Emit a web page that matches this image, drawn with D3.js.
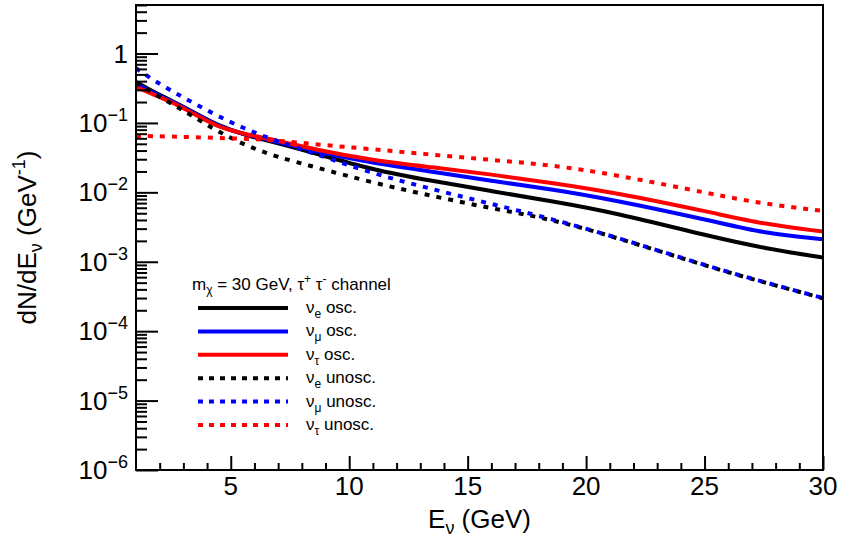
<!DOCTYPE html>
<html>
<head>
<meta charset="utf-8">
<script src="https://d3js.org/d3.v7.min.js"></script>
<style>
  html, body { margin: 0; padding: 0; background: #fff; }
  svg { display: block; font-family: "Liberation Sans", Arial, Helvetica, sans-serif; }
</style>
</head>
<body>
<svg id="chart" width="842" height="541"></svg>
<script>
// ---- data ----
const energies  = [1, 1.7, 2.57, 3.4, 4.4, 5.7, 7, 8.5, 11, 13.5, 16, 18.5, 21.2, 25.4, 27.5, 30];
const nueOsc    = [0.39, 0.284, 0.204, 0.145, 0.0936, 0.065, 0.0512, 0.037, 0.0210, 0.0146, 0.0104, 0.00752, 0.00513, 0.00224, 0.00157, 0.00115];
const numuOsc   = [0.37, 0.275, 0.200, 0.142, 0.091, 0.066, 0.0534, 0.0395, 0.0263, 0.0199, 0.0146, 0.0112, 0.00777, 0.00383, 0.00257, 0.00211];
const nutauOsc  = [0.33, 0.260, 0.196, 0.138, 0.088, 0.0674, 0.0557, 0.0415, 0.0288, 0.0230, 0.0181, 0.0138, 0.00997, 0.00505, 0.00347, 0.00272];
const nueUnosc  = [0.38, 0.270, 0.185, 0.125, 0.077, 0.046, 0.032, 0.0234, 0.0137, 0.00887, 0.00586, 0.00414, 0.00228, 0.00080, 0.000507, 0.000298];
const numuUnosc = [0.614, 0.420, 0.280, 0.196, 0.128, 0.0793, 0.0537, 0.0366, 0.0186, 0.0111, 0.00681, 0.00418, 0.00230, 0.00081, 0.00051, 0.000300];
const nutauUnosc= [0.065, 0.0645, 0.0635, 0.0625, 0.0608, 0.0589, 0.056, 0.0493, 0.0418, 0.0349, 0.0293, 0.0248, 0.0181, 0.00933, 0.0068, 0.0054];

const xTicks = [5, 10, 15, 20, 25, 30];
const yDecades = [0, -1, -2, -3, -4, -5, -6];

const series = [
  { name: "e",  label: " osc.",   values: nueOsc,    color: "#000000", dashed: false },
  { name: "μ",  label: " osc.",   values: numuOsc,   color: "#0000ff", dashed: false },
  { name: "τ",  label: " osc.",   values: nutauOsc,  color: "#ff0000", dashed: false },
  { name: "e",  label: " unosc.", values: nueUnosc,  color: "#000000", dashed: true },
  { name: "μ",  label: " unosc.", values: numuUnosc, color: "#0000ff", dashed: true },
  { name: "τ",  label: " unosc.", values: nutauUnosc,color: "#ff0000", dashed: true }
];

// ---- layout ----
const L = 136, R = 823, T = 5, B = 470;
const svg = d3.select("#chart");

const x = d3.scaleLinear().domain([1, 30]).range([L, R]);
const y = d3.scaleLog().domain([1e-6, 5]).range([B, T]);

svg.append("defs").append("clipPath").attr("id", "clip")
  .append("rect").attr("x", L).attr("y", T).attr("width", R - L).attr("height", B - T);

// curves
const line = d3.line()
  .x(d => x(d[0]))
  .y(d => y(d[1]))
  .curve(d3.curveBasis);

const plot = svg.append("g").attr("clip-path", "url(#clip)");
series.forEach(s => {
  const pts = energies.map((e, i) => [e, s.values[i]]);
  plot.append("path")
    .attr("d", line(pts))
    .attr("fill", "none")
    .attr("stroke", s.color)
    .attr("stroke-width", 4)
    .attr("stroke-dasharray", s.dashed ? "5,7" : null);
});

// ---- axes ----
const xMinor = d3.range(2, 30).filter(v => v % 5 !== 0);
const gx = svg.append("g").attr("transform", `translate(0,${B})`)
  .call(d3.axisBottom(x).tickValues(xTicks).tickSizeInner(-14).tickSizeOuter(0).tickFormat(""));
gx.select(".domain").remove();
gx.selectAll(".tick line").attr("stroke", "#000").attr("stroke-width", 2);
const gxm = svg.append("g").attr("transform", `translate(0,${B})`)
  .call(d3.axisBottom(x).tickValues(xMinor).tickSizeInner(-7).tickSizeOuter(0).tickFormat(""));
gxm.select(".domain").remove();
gxm.selectAll(".tick line").attr("stroke", "#000").attr("stroke-width", 2);

svg.append("g").selectAll("text").data(xTicks).join("text")
  .attr("x", d => x(d)).attr("y", 495)
  .attr("text-anchor", "middle")
  .attr("font-size", 26)
  .text(d => d);

// y axis
const yMajor = yDecades.map(p => Math.pow(10, p));
const yMinor = [];
yDecades.forEach(p => {
  if (p === 0) { [2, 3, 4, 5].forEach(m => yMinor.push(m)); }
  if (p > -6) { for (let m = 2; m <= 9; m++) yMinor.push(m * Math.pow(10, p - 1)); }
});
const gy = svg.append("g").attr("transform", `translate(${L},0)`)
  .call(d3.axisLeft(y).tickValues(yMajor).tickSizeInner(-22).tickSizeOuter(0).tickFormat(""));
gy.select(".domain").remove();
gy.selectAll(".tick line").attr("stroke", "#000").attr("stroke-width", 2);
const gym = svg.append("g").attr("transform", `translate(${L},0)`)
  .call(d3.axisLeft(y).tickValues(yMinor).tickSizeInner(-11).tickSizeOuter(0).tickFormat(""));
gym.select(".domain").remove();
gym.selectAll(".tick line").attr("stroke", "#000").attr("stroke-width", 2);

const yl = svg.append("g");
yDecades.forEach(p => {
  const t = yl.append("text")
    .attr("x", 128).attr("y", y(Math.pow(10, p)) + 9)
    .attr("text-anchor", "end")
    .attr("font-size", 26);
  if (p === 0) {
    t.text("1");
  } else {
    t.append("tspan").text("10");
    t.append("tspan").attr("font-size", 18).attr("dy", -11).text("\u2212" + (-p));
  }
});

// frame
svg.append("rect").attr("x", L).attr("y", T).attr("width", R - L).attr("height", B - T)
  .attr("fill", "none").attr("stroke", "#000").attr("stroke-width", 2);

// axis titles
const xt = svg.append("text").attr("x", (L + R) / 2).attr("y", 528)
  .attr("text-anchor", "middle").attr("font-size", 26);
xt.append("tspan").text("E");
xt.append("tspan").attr("font-size", 18).attr("dy", 6).text("ν");
xt.append("tspan").attr("dy", -6).text(" (GeV)");

const yt = svg.append("text")
  .attr("transform", `translate(36,${(T + B) / 2}) rotate(-90)`)
  .attr("text-anchor", "middle").attr("font-size", 26);
yt.append("tspan").text("dN/dE");
yt.append("tspan").attr("font-size", 18).attr("dy", 6).text("ν");
yt.append("tspan").attr("dy", -6).text(" (GeV");
yt.append("tspan").attr("font-size", 18).attr("dy", -11).text("-1");
yt.append("tspan").attr("dy", 11).text(")");

// ---- legend ----
const lg = svg.append("g");
const hdr = lg.append("text").attr("x", 192).attr("y", 290).attr("font-size", 17);
hdr.append("tspan").text("m");
hdr.append("tspan").attr("font-size", 12).attr("dy", 4).text("χ");
hdr.append("tspan").attr("dy", -4).text(" = 30 GeV, τ");
hdr.append("tspan").attr("font-size", 12).attr("dy", -7).text("+");
hdr.append("tspan").attr("dy", 7).text(" τ");
hdr.append("tspan").attr("font-size", 12).attr("dy", -7).text("-");
hdr.append("tspan").attr("dy", 7).text(" channel");

const rowY = d3.scaleLinear().domain([0, 5]).range([308, 425]);
series.forEach((s, i) => {
  const yy = rowY(i);
  lg.append("line").attr("x1", 198).attr("x2", 288).attr("y1", yy).attr("y2", yy)
    .attr("stroke", s.color).attr("stroke-width", 4)
    .attr("stroke-dasharray", s.dashed ? "5,6" : null);
  const t = lg.append("text").attr("x", 306).attr("y", yy + 5).attr("font-size", 17);
  t.append("tspan").text("ν");
  t.append("tspan").attr("font-size", 12).attr("dy", 5).text(s.name);
  t.append("tspan").attr("dy", -5).text(s.label);
});
</script>
</body>
</html>
